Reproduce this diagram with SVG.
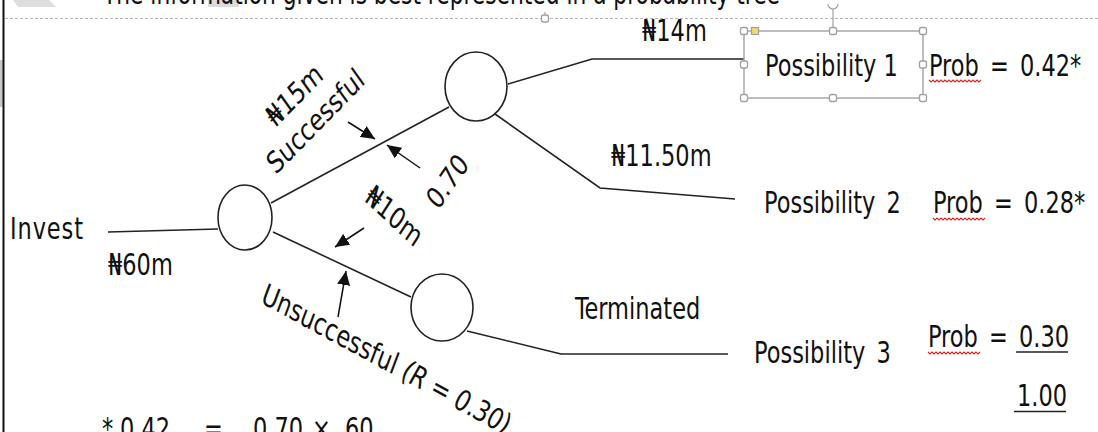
<svg xmlns="http://www.w3.org/2000/svg" width="1098" height="432" viewBox="0 0 1098 432">
  <style>
    .t { font-family: 'DejaVu Sans Condensed', 'DejaVu Sans', sans-serif; font-stretch: condensed; font-size: 25px; fill: #111; }
    .ws { word-spacing: 4px; }
    .it { font-style: italic; }
    .edge { fill: none; stroke: #222; stroke-width: 1.6; }
    .node { fill: #fff; stroke: #222; stroke-width: 1.6; }
    .ptr { fill: none; stroke: #111; stroke-width: 1.5; marker-end: url(#head); }
    .ul { stroke: #222; stroke-width: 1.5; }
    .squiggle { fill: none; stroke: #e02020; stroke-width: 1.1; }
    .hdl { fill: #fff; stroke: #a0a0a0; stroke-width: 1.3; }
    .sel { fill: none; stroke: #a8a8a8; stroke-width: 1.5; }
  </style>
  <defs>
    <marker id="head" markerUnits="userSpaceOnUse" markerWidth="15" markerHeight="13" refX="14" refY="6.5" orient="auto">
      <path d="M0,0 L14,6.5 L0,13 z" fill="#111"/>
    </marker>
  </defs>

  <rect width="1098" height="432" fill="#fff"/>

  <!-- page furniture: margin strip, faint shapes, canvas edge -->
  <g id="page">
    <polygon points="13,0 49,0 56,7 18,7" fill="#dedede"/>
    <rect x="208" y="0" width="31" height="7" fill="#dcdcdc"/>
    <rect x="0" y="60" width="3" height="47" fill="#c8c8c8"/>
    <line x1="3.5" y1="0" x2="3.5" y2="432" stroke="#111" stroke-width="2"/>
    <line x1="5" y1="18.5" x2="1098" y2="18.5" stroke="#b4b4b4" stroke-width="1" stroke-dasharray="3 2"/>
    <line x1="545" y1="12" x2="545" y2="15" stroke="#a0a0a0" stroke-width="1.2"/>
    <rect class="hdl" x="541.5" y="15" width="7" height="7" rx="2"/>
    <text class="t" transform="translate(103,4) scale(1,1.2)" textLength="677" lengthAdjust="spacingAndGlyphs">The information given is best represented in a probability tree</text>
  </g>

  <!-- connectors -->
  <g id="connectors">
    <polyline class="edge" points="108,232 218,229"/>
    <polyline class="edge" points="271,203 449,107"/>
    <polyline class="edge" points="273,232 411,297"/>
    <polyline class="edge" points="508,84 592,59 744,59"/>
    <polyline class="edge" points="495,114 600,188 735,199"/>
    <polyline class="edge" points="467,331 561,354 728,354"/>
    <line class="ptr" x1="348" y1="122" x2="375" y2="139"/>
    <line class="ptr" x1="420" y1="168" x2="387" y2="145"/>
    <line class="ptr" x1="364" y1="228" x2="335" y2="247"/>
    <line class="ptr" x1="338" y1="317" x2="346" y2="271"/>
  </g>

  <!-- root -->
  <g id="invest">
    <text class="t" transform="translate(10,239) scale(1,1.2)" textLength="73">Invest</text>
    <text class="t" transform="translate(108,275) scale(1,1.2)">₦60m</text>
  </g>

  <!-- first chance node -->
  <g id="node-start">
    <ellipse class="node" cx="245" cy="217.5" rx="27" ry="32.5"/>
  </g>

  <!-- branch labels -->
  <g id="branch-success">
    <text class="t" text-anchor="middle" transform="translate(300,103) scale(1,1.2) rotate(-40.4)">₦15m</text>
    <text class="t" text-anchor="middle" transform="translate(321,129) scale(1,1.2) rotate(-40.4)">Successful</text>
    <text class="t" text-anchor="middle" transform="translate(454,188) scale(1,1.2) rotate(-50)">0.70</text>
  </g>
  <g id="branch-fail">
    <text class="t" text-anchor="middle" transform="translate(389,224) scale(1,1.2) rotate(37.8)">₦10m</text>
    <text class="t" text-anchor="middle" transform="translate(383,369) scale(1,1.2) rotate(24.3)">Unsuccessful <tspan class="it">(R = 0.30)</tspan></text>
  </g>

  <!-- success node -->
  <g id="node-success">
    <ellipse class="node" cx="476" cy="86.5" rx="31" ry="34.5"/>
    <text class="t" transform="translate(642,41) scale(1,1.2)">₦14m</text>
    <text class="t" transform="translate(611,166) scale(1,1.2)">₦11.50m</text>
  </g>

  <!-- failure node -->
  <g id="node-fail">
    <ellipse class="node" cx="442" cy="307.5" rx="31" ry="33.5"/>
    <text class="t" transform="translate(575,319) scale(1,1.2)">Terminated</text>
  </g>

  <!-- outcome 1 (selected text box) -->
  <g id="possibility-1">
    <rect class="sel" x="744" y="31" width="179" height="67"/>
    <line x1="833" y1="9" x2="833" y2="28" stroke="#a0a0a0" stroke-width="1.2"/>
    <path d="M828,4 A5,5 0 0 0 838,4" fill="#fff" stroke="#a0a0a0" stroke-width="1.2"/>
    <rect class="hdl" x="740.5" y="27.5" width="7" height="7" rx="2"/>
    <rect x="751.5" y="27.5" width="7" height="7" fill="#f2dc6a" stroke="#a0a0a0" stroke-width="1.2"/>
    <rect class="hdl" x="829.5" y="27.5" width="7" height="7" rx="2"/>
    <rect class="hdl" x="919.5" y="27.5" width="7" height="7" rx="2"/>
    <rect class="hdl" x="740.5" y="61" width="7" height="7" rx="2"/>
    <rect class="hdl" x="919.5" y="61" width="7" height="7" rx="2"/>
    <rect class="hdl" x="740.5" y="94.5" width="7" height="7" rx="2"/>
    <rect class="hdl" x="829.5" y="94.5" width="7" height="7" rx="2"/>
    <rect class="hdl" x="919.5" y="94.5" width="7" height="7" rx="2"/>
    <text class="t" transform="translate(765,76) scale(1,1.2)">Possibility 1</text>
    <text class="t ws" transform="translate(929,76) scale(1,1.2)">Prob = 0.42*</text>
    <path class="squiggle" d="M929,80 l2,2 l2,-2 l2,2 l2,-2 l2,2 l2,-2 l2,2 l2,-2 l2,2 l2,-2 l2,2 l2,-2 l2,2 l2,-2 l2,2 l2,-2 l2,2 l2,-2 l2,2 l2,-2 l2,2 l2,-2 l2,2 l2,-2 l2,2 l2,-2"/>
  </g>

  <!-- outcome 2 -->
  <g id="possibility-2">
    <text class="t ws" transform="translate(764,213) scale(1,1.2)">Possibility 2</text>
    <text class="t ws" transform="translate(933,213) scale(1,1.2)">Prob = 0.28*</text>
    <path class="squiggle" d="M933,218 l2,2 l2,-2 l2,2 l2,-2 l2,2 l2,-2 l2,2 l2,-2 l2,2 l2,-2 l2,2 l2,-2 l2,2 l2,-2 l2,2 l2,-2 l2,2 l2,-2 l2,2 l2,-2 l2,2 l2,-2 l2,2 l2,-2 l2,2 l2,-2"/>
  </g>

  <!-- outcome 3 with total -->
  <g id="possibility-3">
    <text class="t ws" transform="translate(754,363) scale(1,1.2)">Possibility 3</text>
    <text class="t ws" transform="translate(928,347) scale(1,1.2)">Prob = 0.30</text>
    <path class="squiggle" d="M928,352 l2,2 l2,-2 l2,2 l2,-2 l2,2 l2,-2 l2,2 l2,-2 l2,2 l2,-2 l2,2 l2,-2 l2,2 l2,-2 l2,2 l2,-2 l2,2 l2,-2 l2,2 l2,-2 l2,2 l2,-2 l2,2 l2,-2 l2,2 l2,-2"/>
    <line class="ul" x1="1016" y1="352" x2="1068" y2="352"/>
    <text class="t" transform="translate(1017,406) scale(1,1.2)">1.00</text>
    <line class="ul" x1="1014" y1="411.5" x2="1066" y2="411.5"/>
  </g>

  <!-- footnote -->
  <g id="footnote">
    <text class="t" transform="translate(0,439) scale(1,1.2)"><tspan x="102">*</tspan><tspan x="120">0.42</tspan><tspan x="204">=</tspan><tspan x="253">0.70</tspan><tspan x="312">×</tspan><tspan x="345">60</tspan></text>
  </g>
</svg>
